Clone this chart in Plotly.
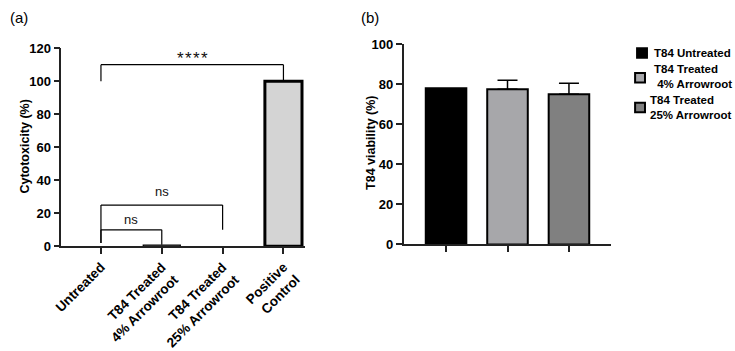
import plotly.graph_objects as go

# ---- data ----
cyto_labels = ["Untreated", "T84 Treated<br>4% Arrowroot", "T84 Treated<br>25% Arrowroot", "Positive<br>Control"]
cyto_values = [0, 0.8, 0, 100]
cyto_colors = ["#A6A6A6", "#A6A6A6", "#A6A6A6", "#D4D4D4"]
cyto_outline = [0, 1.2, 0, 3]

via_names = ["T84 Untreated", "T84 Treated<br>&nbsp;4% Arrowroot", "T84 Treated<br>25% Arrowroot"]
via_values = [78, 77.5, 75]
via_err = [0, 4.5, 5.5]
via_colors = ["#000000", "#A7A7AA", "#808080"]

# brackets: (left idx, right idx, bar height, left foot, right foot, label, label y)
brackets = [
    (0, 3, 110, 100, 100, "*&#8202;*&#8202;*&#8202;*", 114),
    (0, 2, 25, 2, 10, "ns", 33),
    (0, 1, 10, 2, 1, "ns", 16),
]

W, H = 735, 351
font = "Liberation Sans, Arial, sans-serif"

fig = go.Figure()

xs = list(range(len(cyto_labels)))
fig.add_trace(go.Bar(
    x=xs, y=cyto_values, width=0.61,
    marker=dict(color=cyto_colors, line=dict(color="#000000", width=cyto_outline)),
    xaxis="x", yaxis="y", showlegend=False,
))

for i, (n, v, e, c) in enumerate(zip(via_names, via_values, via_err, via_colors)):
    fig.add_trace(go.Bar(
        x=[i], y=[v], width=0.66, name=n, showlegend=False,
        marker=dict(color=c, line=dict(color="#000000", width=2)),
        error_y=dict(type="data", array=[e], arrayminus=[0], visible=e > 0,
                     color="#000000", thickness=1.5, width=10),
        xaxis="x2", yaxis="y2",
    ))

shapes = []
annotations = []
for l, r, h, fl, fr, lab, ly in brackets:
    ln = dict(color="#000000", width=1.2)
    shapes.append(dict(type="line", xref="x", yref="y", x0=l, x1=l, y0=fl, y1=h, line=ln))
    shapes.append(dict(type="line", xref="x", yref="y", x0=l, x1=r, y0=h, y1=h, line=ln))
    shapes.append(dict(type="line", xref="x", yref="y", x0=r, x1=r, y0=h, y1=fr, line=ln))
    annotations.append(dict(xref="x", yref="y", x=(l + r) / 2, y=ly, text=lab, showarrow=False,
                            font=dict(family=font, size=13 if lab == "ns" else 17, color="#111")))

# custom legend (layout positions in pixels)
leg_sq = [(641, 48), (639, 74), (639, 105)]
leg_txt = [(651, 48), (651, 73), (647, 105)]
for (sx, sy), (tx, ty), n, c in zip(leg_sq, leg_txt, via_names, via_colors):
    shapes.append(dict(type="rect", xref="paper", yref="paper",
                       x0=(sx - 5) / W, x1=(sx + 5) / W, y0=1 - (sy + 5) / H, y1=1 - (sy - 5) / H,
                       fillcolor=c, line=dict(color="#000000", width=2)))
    annotations.append(dict(xref="paper", yref="paper", x=tx / W, y=1 - ty / H, xanchor="left",
                            yanchor="middle", align="left", text=n, showarrow=False,
                            font=dict(family=font, size=11.5, color="#000", weight="bold")))

annotations += [
    dict(xref="paper", yref="paper", x=0, y=1, xanchor="left", yanchor="top", text="(a)",
         showarrow=False, font=dict(family=font, size=15, color="#000")),
    dict(xref="paper", yref="paper", x=355 / W, y=1, xanchor="left", yanchor="top", text="(b)",
         showarrow=False, font=dict(family=font, size=15, color="#000")),
    dict(xref="paper", yref="paper", x=17 / W, y=1 - 146 / H, xanchor="center", yanchor="middle",
         text="Cytotoxicity (%)", textangle=-90,
         showarrow=False, font=dict(family=font, size=12.5, color="#000", weight="bold")),
    dict(xref="paper", yref="paper", x=367 / W, y=1 - 142 / H, xanchor="center", yanchor="middle",
         text="T84 viability (%)", textangle=-90,
         showarrow=False, font=dict(family=font, size=12.5, color="#000", weight="bold")),
]

axis_common = dict(showgrid=False, zeroline=False, showline=True, linecolor="#222", linewidth=1.5,
                   ticks="outside", tickcolor="#222", tickwidth=1.5, ticklen=6,
                   tickfont=dict(family=font, size=13, color="#000", weight="bold"))

fig.update_layout(
    width=W, height=H, margin=dict(l=0, r=0, t=0, b=0),
    plot_bgcolor="white", paper_bgcolor="white", showlegend=False,
    xaxis=dict(domain=[54 / W, 300 / W], range=[-0.65, 3.35], tickvals=xs, ticktext=cyto_labels,
               tickangle=-45, anchor="y", **{**axis_common,
               "tickfont": dict(family=font, size=13.5, color="#000", weight="bold")}),
    yaxis=dict(domain=[1 - 250 / H, 1 - 43 / H], range=[0, 120], dtick=20, anchor="x", **axis_common),
    xaxis2=dict(domain=[400 / W, 610 / W], range=[-0.69, 2.69], tickvals=[0, 1, 2],
                ticktext=["", "", ""], anchor="y2", **axis_common),
    yaxis2=dict(domain=[1 - 248 / H, 1 - 39 / H], range=[0, 100], dtick=20, anchor="x2", **axis_common),
    shapes=shapes, annotations=annotations,
)

fig.write_html("out.html")
